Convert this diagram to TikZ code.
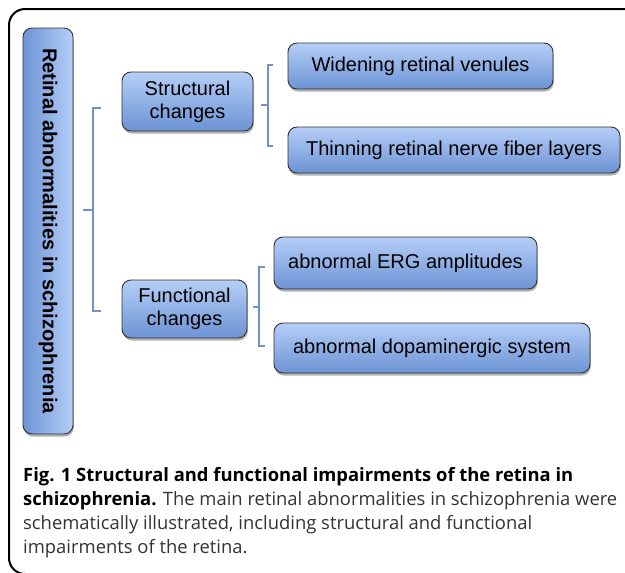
\documentclass[tikz,border=0pt]{standalone}
\usepackage{fontspec}
\usepackage{graphicx}
\setmainfont{Liberation Sans}
\newfontfamily\capfont{Open Sans}
\usetikzlibrary{shadows}
\definecolor{boxtop}{HTML}{B5CEF7}
\definecolor{boxbot}{HTML}{6C93D4}
\definecolor{brkcol}{HTML}{6F92CA}
\definecolor{capgray}{HTML}{333333}
\tikzset{
  gbox/.style={draw=black!80, line width=0.9pt, rounded corners=9pt,
    top color=boxtop, bottom color=boxbot, inner sep=0pt, align=center,
    font=\fontsize{20}{23}\selectfont,
    drop shadow={shadow xshift=0.8pt, shadow yshift=-2.5pt, opacity=0.3, fill=black}},
  vbox/.style={draw=black!80, line width=0.9pt, rounded corners=9pt,
    left color=boxbot, right color=boxtop, inner sep=0pt,
    font=\fontsize{20}{23}\selectfont\bfseries,
    drop shadow={shadow xshift=0.8pt, shadow yshift=-2.5pt, opacity=0.3, fill=black}},
  brk/.style={draw=brkcol, line width=2.8pt},
  capline/.style={anchor=base west, inner sep=0pt, font=\capfont\fontsize{18.4}{24}\selectfont, text=capgray},
  frame/.style={draw=black, line width=2pt, rounded corners=16pt}
}
\begin{document}
\begin{tikzpicture}[x=1pt,y=-1pt]
\useasboundingbox (0,0) rectangle (625,573);
\begin{scope}
\clip (0,0) rectangle (625,573);
\draw[frame] (9,9) rectangle (660,574);
\end{scope}

\node[vbox, minimum width=50pt, minimum height=406pt] (root) at (48,231) {\rotatebox{-90}{Retinal abnormalities in schizophrenia}};

\node[gbox, minimum width=131pt, minimum height=59pt] (sc) at (187.5,101.5) {Structural\\changes};
\node[gbox, minimum width=125pt, minimum height=58pt] (fc) at (184.5,309) {Functional\\changes};

\node[gbox, minimum width=265pt, minimum height=46pt] (wv) at (420.5,66) {Widening retinal venules};
\node[gbox, minimum width=332pt, minimum height=46pt] (tn) at (454,150) {Thinning retinal nerve fiber layers};
\node[gbox, minimum width=263pt, minimum height=52pt] (erg) at (405.5,263) {abnormal ERG amplitudes};
\node[gbox, minimum width=316pt, minimum height=50pt] (dop) at (432,348) {abnormal dopaminergic system};

% outer bracket
\coordinate (o1) at (101,108);
\coordinate (o2) at (93,108);
\coordinate (o3) at (93,311);
\coordinate (o4) at (101,311);
\coordinate (om) at (93,210);
\coordinate (ot) at (83,210);
\draw[brk] (o1) -- (o2) -- (o3) -- (o4);
\draw[brk] (om) -- (ot);
% structural bracket
\coordinate (s1) at (273,65);
\coordinate (s2) at (268,65);
\coordinate (s3) at (268,146);
\coordinate (s4) at (273,146);
\coordinate (sm) at (268,105);
\coordinate (st) at (261,105);
\draw[brk] (s1) -- (s2) -- (s3) -- (s4);
\draw[brk] (sm) -- (st);
% functional bracket
\coordinate (f1) at (265,267);
\coordinate (f2) at (259,267);
\coordinate (f3) at (259,346);
\coordinate (f4) at (265,346);
\coordinate (fm) at (259,307);
\coordinate (ft) at (253,307);
\draw[brk] (f1) -- (f2) -- (f3) -- (f4);
\draw[brk] (fm) -- (ft);

\node[capline, text=black] (c1) at (23,481) {\bfseries Fig. 1 Structural and functional impairments of the retina in};
\node[capline] (c2) at (23,505) {\textcolor{black}{\bfseries schizophrenia.} The main retinal abnormalities in schizophrenia were};
\node[capline] (c3) at (23,529) {schematically illustrated, including structural and functional};
\node[capline] (c4) at (23,553) {impairments of the retina.};
\end{tikzpicture}
\end{document}
